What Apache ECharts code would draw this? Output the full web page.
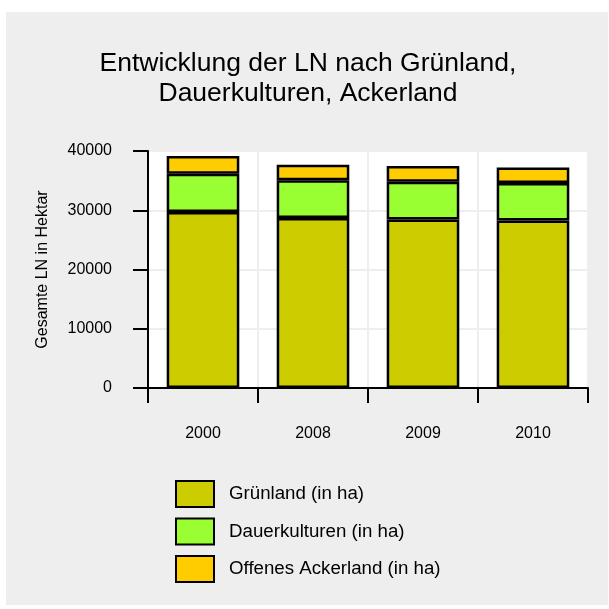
<!DOCTYPE html>
<html><head><meta charset="utf-8">
<script src="https://cdn.jsdelivr.net/npm/echarts@6/dist/echarts.min.js"></script>
<style>html,body{margin:0;padding:0;background:#fff}#c{width:609px;height:609px}</style>
</head><body><div id="c"></div>
<script>
const categories = ['2000', '2008', '2009', '2010'];
const gruenland = [29700, 28700, 28450, 28250];
const dauerkulturen = [6450, 6350, 6350, 6350];
const ackerland = [3000, 2650, 2650, 2600];
const yTicks = [0, 10000, 20000, 30000, 40000];
const seriesNames = ['Grünland (in ha)', 'Dauerkulturen (in ha)', 'Offenes Ackerland (in ha)'];
const colors = ['#cccc00', '#99ff33', '#ffcc00'];

const chart = echarts.init(document.getElementById('c'), null, {renderer: 'canvas'});
const font = 'Liberation Sans, Arial, sans-serif';
function mk(name, data, color) {
  return {
    name, type: 'bar', stack: 'a', data, barWidth: '66%',
    itemStyle: {color, borderColor: '#000', borderWidth: 2.5},
    emphasis: {disabled: true}
  };
}
chart.setOption({
  animation: false,
  backgroundColor: '#ffffff',
  textStyle: {fontFamily: font},
  graphic: [{type: 'rect', z: -10, shape: {x: 6, y: 12, width: 602, height: 593}, style: {fill: '#eeeeee'}, silent: true}],
  title: {
    text: 'Entwicklung der LN nach Grünland,\nDauerkulturen, Ackerland',
    left: 303, top: 44, textAlign: 'center',
    textStyle: {fontFamily: font, fontSize: 26.5, fontWeight: 'normal', color: '#000', lineHeight: 30}
  },
  grid: {left: 148, right: 21, top: 151, bottom: 221, backgroundColor: '#ffffff', show: true, borderWidth: 1, borderColor: '#b8b8b8'},
  xAxis: {
    type: 'category', data: categories,
    axisLine: {lineStyle: {color: '#000', width: 2}},
    axisTick: {show: true, length: 15, lineStyle: {color: '#000', width: 2}, alignWithLabel: false},
    axisLabel: {color: '#000', fontSize: 16, margin: 38, fontFamily: font},
    splitLine: {show: true, lineStyle: {color: '#eeeeee', width: 2}}
  },
  yAxis: {
    type: 'value', min: 0, max: 40000, interval: 10000,
    name: 'Gesamte LN in Hektar', nameLocation: 'middle', nameGap: 97, nameRotate: 90,
    nameTextStyle: {color: '#000', fontSize: 16, fontFamily: font},
    axisLine: {show: true, lineStyle: {color: '#000', width: 2}},
    axisTick: {show: true, length: 15, lineStyle: {color: '#000', width: 2}},
    axisLabel: {color: '#000', fontSize: 16, margin: 36, fontFamily: font, formatter: v => String(v)},
    splitLine: {show: true, lineStyle: {color: '#eeeeee', width: 2}}
  },
  legend: {
    orient: 'vertical', left: 170, top: 475, itemWidth: 38, itemHeight: 26, itemGap: 9.5,
    icon: 'rect',
    textStyle: {fontSize: 18.7, color: '#000', fontFamily: font, padding: [0, 0, 0, 10]},
    itemStyle: {borderColor: '#000', borderWidth: 2},
    selectedMode: false,
    data: seriesNames
  },
  series: [
    mk(seriesNames[0], gruenland, colors[0]),
    mk(seriesNames[1], dauerkulturen, colors[1]),
    mk(seriesNames[2], ackerland, colors[2])
  ]
});
</script></body></html>
